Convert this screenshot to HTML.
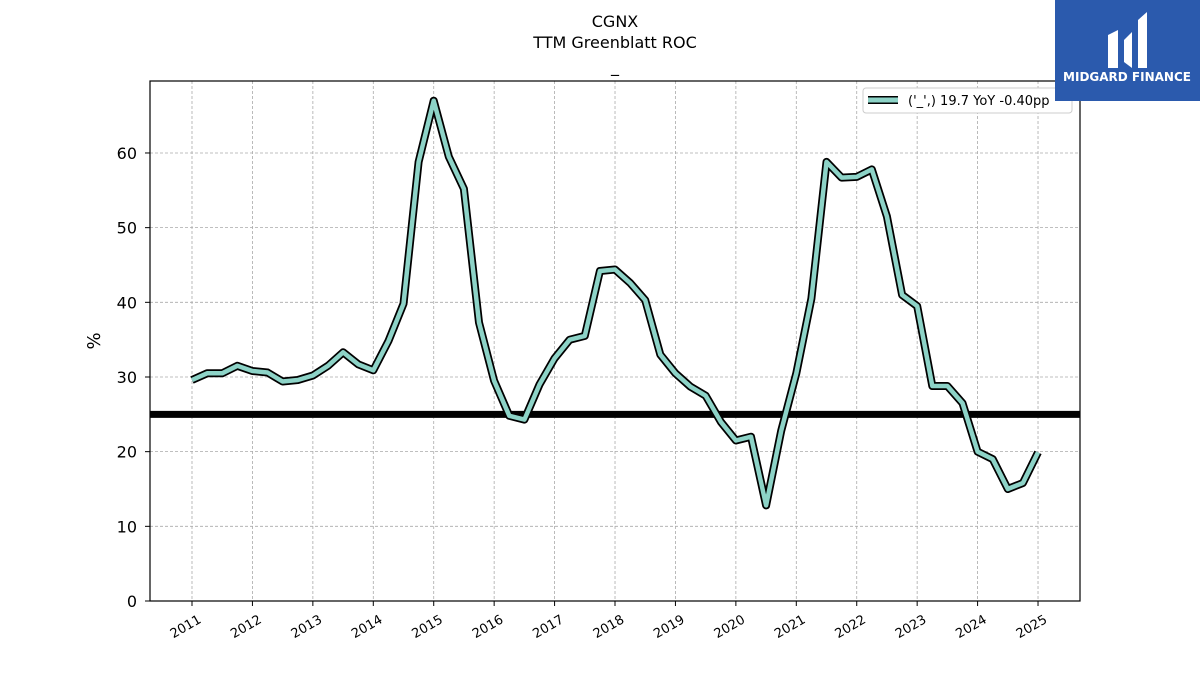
<!DOCTYPE html>
<html><head><meta charset="utf-8"><style>
body{margin:0;background:#fff;}
svg text{font-family:"DejaVu Sans","Liberation Sans",sans-serif;}
</style></head><body>
<svg width="1200" height="675" xmlns="http://www.w3.org/2000/svg" id="svg">
<rect width="1200" height="675" fill="#fff"/>
<text x="615" y="27" font-size="16" text-anchor="middle">CGNX</text>
<text x="615" y="48" font-size="16" text-anchor="middle">TTM Greenblatt ROC</text>
<text x="615" y="72" font-size="16" text-anchor="middle">_</text>
<g id="grid"></g>
<g id="marks"></g>
<rect x="150" y="81" width="930" height="520" fill="none" stroke="#000" stroke-width="1.2"/>
<g id="axes"></g>
<text transform="translate(100,341) rotate(-90)" font-size="18" text-anchor="middle">%</text>
<g>
<rect x="863" y="88" width="209" height="25" rx="3" fill="#fff" stroke="#ccc"/>
<line x1="868" y1="100" x2="898" y2="100" stroke="#000" stroke-width="8"/>
<line x1="868" y1="100" x2="898" y2="100" stroke="#8dd3c7" stroke-width="5"/>
<text x="908" y="105" font-size="13">('_',) 19.7 YoY -0.40pp</text>
</g>
<g>
<rect x="1055" y="0" width="145" height="101" fill="#2b5aad"/>
<path d="M1108 68 V35 L1118 30 V68 Z M1124 40 L1132 32 V68 L1124 62 Z M1138 20 L1147 12 V68 H1138 Z" fill="#fff"/>
<text x="1127" y="81" font-size="12" font-weight="bold" fill="#fff" text-anchor="middle">MIDGARD FINANCE</text>
</g>
</svg>
<script>
const years=[2011,2012,2013,2014,2015,2016,2017,2018,2019,2020,2021,2022,2023,2024,2025];
const yTicks=[0,10,20,30,40,50,60];
const values=[29.6,30.5,30.5,31.5,30.8,30.6,29.4,29.6,30.2,31.5,33.3,31.7,30.9,34.8,39.8,58.8,67.0,59.5,55.2,37.3,29.5,24.8,24.3,29.0,32.5,35.0,35.5,44.2,44.4,42.6,40.3,33.0,30.5,28.7,27.5,24.0,21.5,22.0,12.8,22.8,30.5,40.5,58.8,56.7,56.8,57.8,51.5,41.0,39.5,28.8,28.8,26.5,20.0,19.0,15.0,15.8,19.9];
const startYear=2011;
const refLevel=25;
const ns="http://www.w3.org/2000/svg";
const X=t=>192+(t-2011)*60.43;
const Y=v=>601-v*7.467;
function mk(tag,attrs,parent){const e=document.createElementNS(ns,tag);for(const k in attrs)e.setAttribute(k,attrs[k]);document.getElementById(parent).appendChild(e);return e;}
years.forEach(y=>{
 const g=mk('line',{x1:X(y),x2:X(y),y1:81,y2:601,stroke:'#aaa','stroke-dasharray':'3,2','stroke-width':0.8},'grid');
 
 
 const t=mk('line',{x1:X(y),x2:X(y),y1:601,y2:606,stroke:'#000'},'axes');
 
 
 const l=mk('text',{x:0,y:0,'font-size':13,'text-anchor':'end',transform:`translate(${X(y)+10},${622}) rotate(-30)`},'axes');
 l.textContent=y;
 
 
});
yTicks.forEach(v=>{
 const g=mk('line',{x1:150,x2:1080,y1:Y(v),y2:Y(v),stroke:'#aaa','stroke-dasharray':'3,2','stroke-width':0.8},'grid');
 
 
 const t=mk('line',{x1:145,x2:150,y1:Y(v),y2:Y(v),stroke:'#000'},'axes');
 
 
 const l=mk('text',{x:137,y:Y(v)+6,'font-size':16,'text-anchor':'end'},'axes');
 l.textContent=v;
 
 
});
const ref=mk('line',{x1:150,x2:1080,y1:Y(refLevel),y2:Y(refLevel),stroke:'#000','stroke-width':7},'marks');


const pts=values.map((v,i)=>X(startYear+i*0.25).toFixed(1)+','+Y(v).toFixed(1)).join(' ');
const o=mk('polyline',{points:pts,fill:'none',stroke:'#000','stroke-width':8,'stroke-linejoin':'round'},'marks');


const s=mk('polyline',{points:pts,fill:'none',stroke:'#8dd3c7','stroke-width':4.5,'stroke-linejoin':'round'},'marks');


</script>
</body></html>
